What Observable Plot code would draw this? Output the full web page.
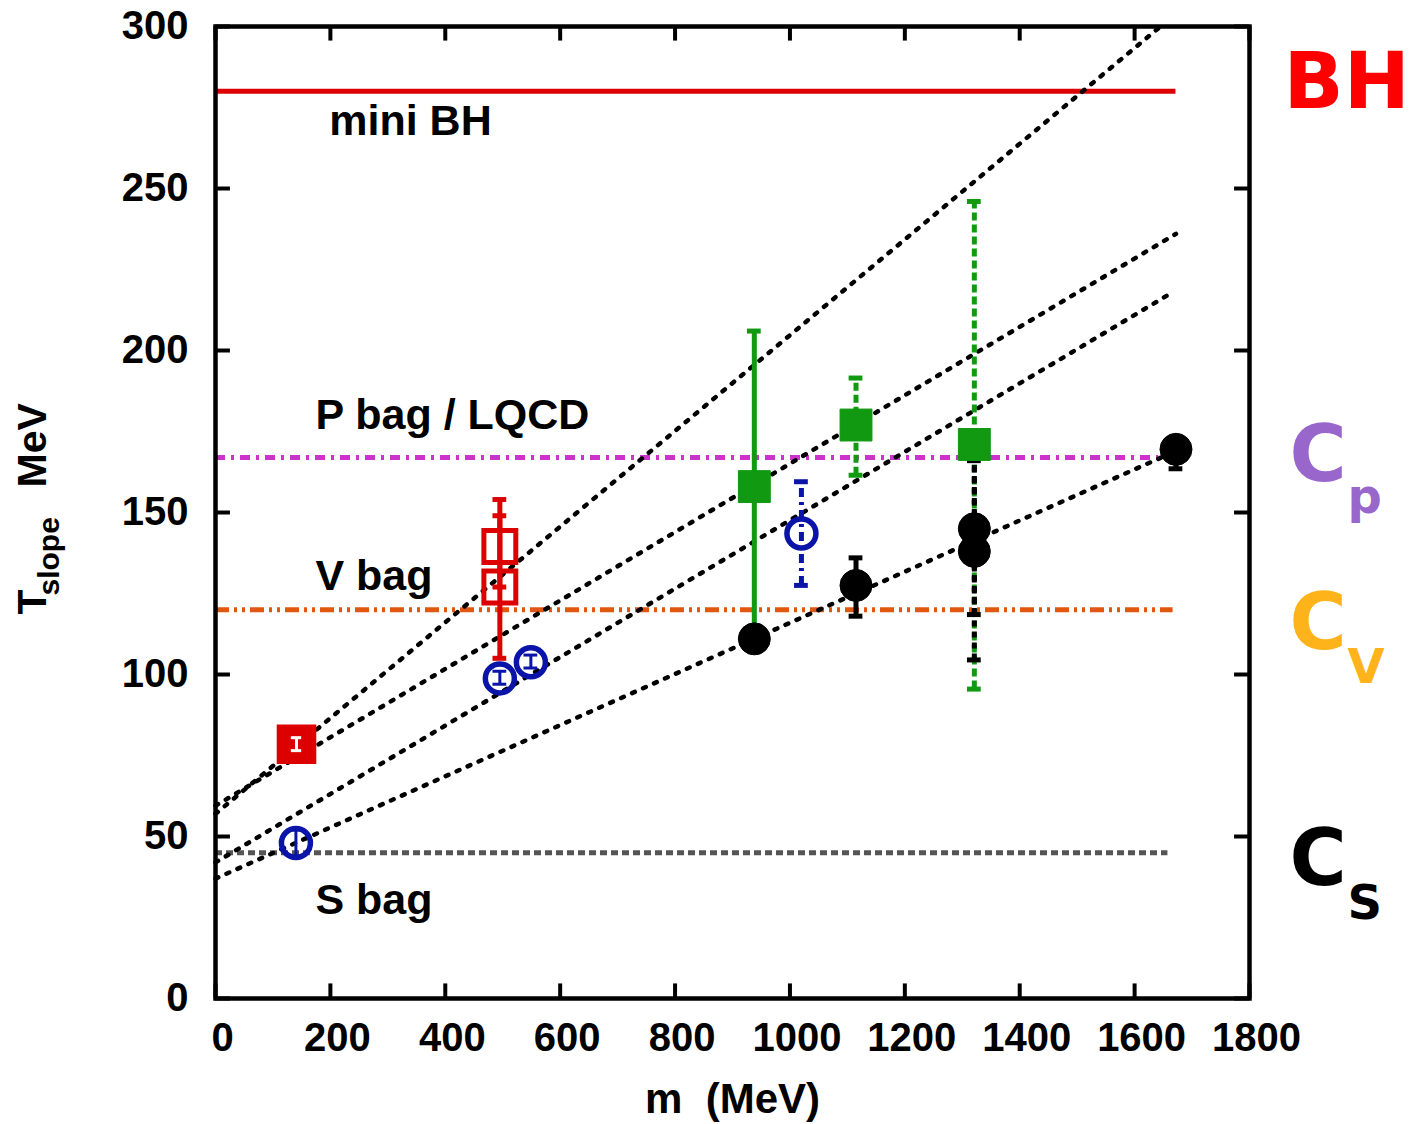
<!DOCTYPE html>
<html>
<head>
<meta charset="utf-8">
<script src="https://cdn.jsdelivr.net/npm/d3@7"></script>
<script src="https://cdn.jsdelivr.net/npm/@observablehq/plot@0.6"></script>
<style>
  html, body { margin: 0; padding: 0; background: #fff; }
</style>
</head>
<body>
<div id="chart"></div>
<script>
// ---------- data ----------
const xTicks = [0, 200, 400, 600, 800, 1000, 1200, 1400, 1600, 1800];
const yTicks = [0, 50, 100, 150, 200, 250, 300];

// reference horizontal levels (T, end of line in m)
const hLineNames = ["mini BH", "P bag / LQCD", "V bag", "S bag"];
const hLineT     = [280, 167, 120, 45];
const hLineEnd   = [1672, 1642, 1667, 1658];

// dotted linear fits, drawn from (m0,T0) to (m1,T1)
const fitM0 = [0, 0, 0, 0];
const fitT0 = [57, 59.5, 42, 37];
const fitM1 = [1645, 1672, 1657, 1672];
const fitT1 = [300, 236, 217, 169];

// red squares
const redM  = [141, 495, 495];
const redT  = [78.5, 139.5, 127];
const redLo = [76.5, 127, 105];
const redHi = [80.5, 154, 149];

// blue open circles
const blueM  = [140, 495, 549, 1020];
const blueT  = [48, 98.8, 103.8, 143.5];
const blueLo = [44, 97, 102, 127.5];
const blueHi = [52, 101, 106, 159.5];

// green filled squares
const greenM  = [938, 1115, 1321];
const greenT  = [158, 177, 171];
const greenLo = [112, 161.5, 95.5];
const greenHi = [206, 191.5, 246];

// black filled circles
const blackM  = [938, 1115, 1321, 1321, 1672];
const blackT  = [111, 127.5, 145, 138, 169.5];
const blackLo = [111, 118, 118.5, 104.5, 163.5];
const blackHi = [111, 136, 171, 166, 172];

// ---------- helpers ----------
const rows = (M, T, Lo, Hi) => M.map((m, i) => ({m, T: T[i], lo: Lo[i], hi: Hi[i]}));
const red = rows(redM, redT, redLo, redHi);
const blue = rows(blueM, blueT, blueLo, blueHi);
const green = rows(greenM, greenT, greenLo, greenHi);
const black = rows(blackM, blackT, blackLo, blackHi);
const fits = fitM0.flatMap((m0, i) => [
  {id: i, m: m0, T: fitT0[i]},
  {id: i, m: fitM1[i], T: fitT1[i]}
]);

const FONT = "'Liberation Sans', Arial, Helvetica, sans-serif";
const DJ = "'DejaVu Sans', sans-serif";
const CAP = 12; // half cap width in MeV
const BLUE = "#0a14a8", GREEN = "#119911", RED = "#dd0000";

const hStyles = [
  {stroke: RED, dash: null},
  {stroke: "#cc33cc", dash: "10,6,3,6"},
  {stroke: "#e0580f", dash: "14,5,3,5,3,5"},
  {stroke: "#555555", dash: "7,4"}
];

function errBars(data, color, dash, width = 5) {
  return [
    Plot.ruleX(data, {x: "m", y1: "lo", y2: "hi", stroke: color, strokeWidth: width, strokeDasharray: dash}),
    Plot.ruleY(data, {y: "hi", x1: d => d.m - CAP, x2: d => d.m + CAP, stroke: color, strokeWidth: width}),
    Plot.ruleY(data, {y: "lo", x1: d => d.m - CAP, x2: d => d.m + CAP, stroke: color, strokeWidth: width})
  ];
}

const chart = Plot.plot({
  width: 1411,
  height: 1124,
  marginLeft: 215,
  marginRight: 162,
  marginTop: 26,
  marginBottom: 126,
  style: {fontFamily: FONT, fontWeight: "bold", background: "#fff", color: "#000"},
  x: {domain: [0, 1800]},
  y: {domain: [0, 300]},
  marks: [
    // horizontal model lines
    ...hLineT.map((t, i) => Plot.ruleY([t], {
      x1: 0, x2: hLineEnd[i], stroke: hStyles[i].stroke, strokeWidth: 5,
      strokeDasharray: hStyles[i].dash
    })),
    // dotted fits
    Plot.line(fits, {x: "m", y: "T", z: "id", stroke: "#000", strokeWidth: 4.5, strokeDasharray: "3,9"}),

    // error bars
    ...errBars(red, RED, null),
    ...errBars([blue[3]], BLUE, "9,5,3,5"),
    ...errBars(blue.slice(0, 3), BLUE, null, 3),
    ...errBars([green[0]], GREEN, null),
    ...errBars(green.slice(1), GREEN, "8,4"),
    ...errBars([black[2]], "#000", "6,5"),
    ...errBars([black[3]], "#000", "6,5"),
    ...errBars([black[1], black[4]], "#000", null),

    // markers
    Plot.dot([red[0]], {x: "m", y: "T", symbol: "square", r: 19.5, fill: RED, stroke: RED, strokeWidth: 5}),
    Plot.ruleX([red[0]], {x: "m", y1: "lo", y2: "hi", stroke: "#fff", strokeWidth: 3}),
    Plot.ruleY([red[0]], {y: "lo", x1: d => d.m - 9, x2: d => d.m + 9, stroke: "#fff", strokeWidth: 3}),
    Plot.ruleY([red[0]], {y: "hi", x1: d => d.m - 9, x2: d => d.m + 9, stroke: "#fff", strokeWidth: 3}),
    Plot.dot(red.slice(1), {x: "m", y: "T", symbol: "square", r: 18, fill: "none", stroke: RED, strokeWidth: 5}),
    Plot.dot(green, {x: "m", y: "T", symbol: "square", r: 18, fill: GREEN, stroke: GREEN, strokeWidth: 1}),
    Plot.dot(black, {x: "m", y: "T", r: 16, fill: "#000", stroke: "#000", strokeWidth: 1}),
    Plot.dot(blue, {x: "m", y: "T", r: 14.5, fill: "none", stroke: BLUE, strokeWidth: 5.5}),

    // inward ticks on all four sides
    Plot.ruleX(xTicks, {x: d => d, y1: 0, y2: 4.5, stroke: "#000", strokeWidth: 4}),
    Plot.ruleX(xTicks, {x: d => d, y1: 300, y2: 295.5, stroke: "#000", strokeWidth: 4}),
    Plot.ruleY(yTicks, {y: d => d, x1: 0, x2: 26, stroke: "#000", strokeWidth: 4}),
    Plot.ruleY(yTicks, {y: d => d, x1: 1800, x2: 1774, stroke: "#000", strokeWidth: 4}),
    Plot.frame({stroke: "#000", strokeWidth: 4.5}),

    // tick labels
    Plot.axisX(xTicks, {tickSize: 0, tickPadding: 24, dx: 7, tickFormat: d => String(d), fontSize: 40, fontWeight: "bold", fontFamily: FONT, label: null}),
    Plot.axisY(yTicks, {tickSize: 0, tickPadding: 27, tickFormat: d => String(d), fontSize: 40, fontWeight: "bold", fontFamily: FONT, label: null}),

    // in-plot labels
    Plot.text(hLineNames, {
      x: [198, 174, 174, 174], y: [266.4, 175.9, 126.2, 26.2],
      text: d => d, textAnchor: "start", lineAnchor: "bottom",
      fontSize: 43, fontWeight: "bold", fontFamily: FONT, fill: "#000"
    }),

    // axis titles
    Plot.text(["m\u00a0\u00a0(MeV)"], {frameAnchor: "bottom", dy: 114, lineAnchor: "bottom", fontSize: 42, fontWeight: "bold", fontFamily: FONT, fill: "#000"}),
    Plot.text(["T"], {frameAnchor: "left", dx: -183, dy: 102, rotate: -90, textAnchor: "start", lineAnchor: "middle", fontSize: 41, fontWeight: "bold", fontFamily: FONT, fill: "#000"}),
    Plot.text(["slope"], {frameAnchor: "left", dx: -166, dy: 83, rotate: -90, textAnchor: "start", lineAnchor: "middle", fontSize: 30, fontWeight: "bold", fontFamily: FONT, fill: "#000"}),
    Plot.text(["MeV"], {frameAnchor: "left", dx: -183, dy: -25, rotate: -90, textAnchor: "start", lineAnchor: "middle", fontSize: 41, fontWeight: "bold", fontFamily: FONT, fill: "#000"}),

    // right-side labels
    Plot.text(["BH"], {x: 1800, y: 274.7, dx: 34, textAnchor: "start", lineAnchor: "bottom", fontSize: 79, fontWeight: "bold", fontFamily: DJ, fill: "#ff0000"}),
    Plot.text(["C", "C", "C"], {
      x: [1800, 1800, 1800], y: [159.6, 108, 34.9], dx: 40,
      text: d => d, textAnchor: "start", lineAnchor: "bottom",
      fontSize: 78, fontWeight: "bold", fontFamily: DJ,
      fill: ["#9966cc", "#ffb31a", "#000000"]
    }),
    Plot.text(["p", "V", "S"], {
      x: [1800, 1800, 1800], y: [149.7, 97.5, 24.4], dx: 98,
      text: d => d, textAnchor: "start", lineAnchor: "bottom",
      fontSize: 48, fontWeight: "bold", fontFamily: DJ,
      fill: ["#9966cc", "#ffb31a", "#000000"]
    })
  ]
});

document.getElementById("chart").appendChild(chart);
</script>
</body>
</html>
